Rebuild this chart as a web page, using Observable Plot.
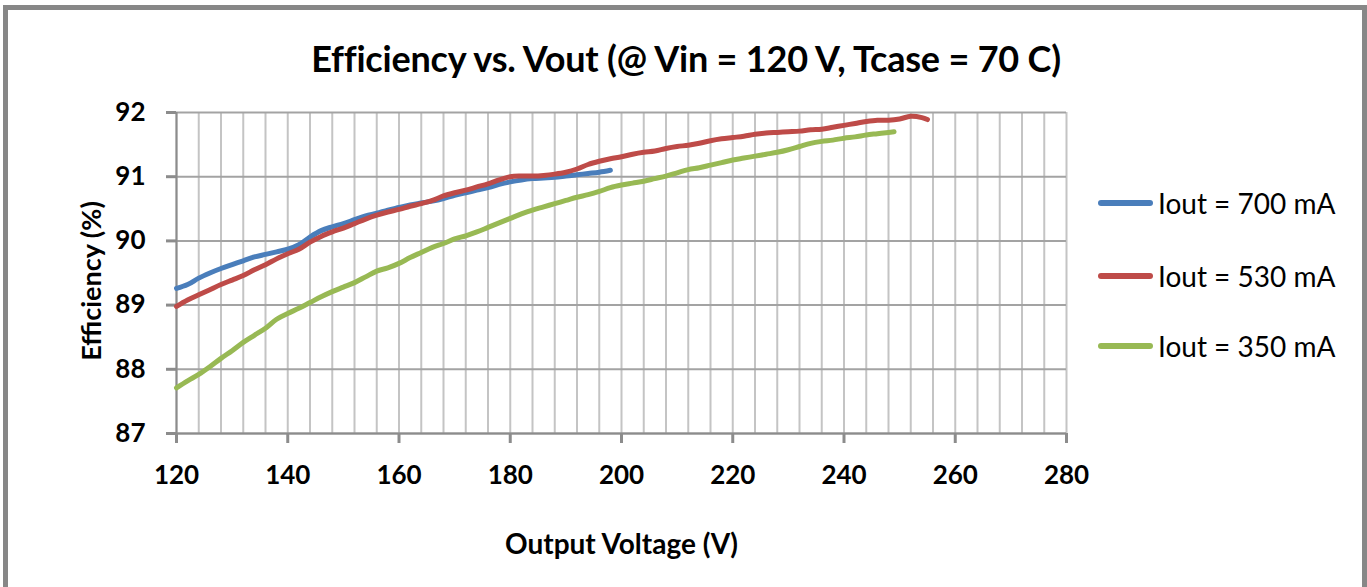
<!DOCTYPE html>
<html>
<head>
<meta charset="utf-8">
<script src="https://cdn.jsdelivr.net/npm/d3@7"></script>
<script src="https://cdn.jsdelivr.net/npm/@observablehq/plot@0.6"></script>
<style>
  html, body { margin: 0; padding: 0; background: #fff; }
  #wrap { position: relative; width: 1367px; height: 587px; overflow: hidden; font-family: Lato, "Open Sans", sans-serif; }
  #frame { position: absolute; left: 3px; top: 5px; width: 1354px; height: 700px; border: 5px solid #878787; border-bottom: none; }
  #title { position: absolute; left: 0; width: 1372px; top: 37px; text-align: center; font-weight: bold; font-size: 36px; line-height: 42px; color: #000; letter-spacing: -0.2px; }
  #chart { position: absolute; left: 0; top: 80px; }
  .leg { position: absolute; left: 1098px; height: 30px; }
  .leg .sw { position: absolute; left: 0; top: 12px; width: 55px; height: 6px; border-radius: 3px; }
  .leg .lb { position: absolute; left: 60px; top: 0; line-height: 30px; font-size: 28px; white-space: nowrap; color: #000; }
</style>
</head>
<body>
<div id="wrap">
  <div id="frame"></div>
  <div id="title">Efficiency vs. Vout (@ Vin = 120 V, Tcase = 70 C)</div>
  <div id="chart"></div>
  <div id="legend"></div>
</div>
<script>
// ---- data ----
const seriesNames = ["Iout = 700 mA", "Iout = 530 mA", "Iout = 350 mA"];
const seriesColors = ["#4a7ebb", "#be4b48", "#98b954"];

const vout700 = [120,122,124,126,128,130,132,134,136,138,140,142,144,146,148,150,152,154,156,158,160,162,164,166,168,170,172,174,176,178,180,182,184,186,188,190,192,194,196,198];
const eff700  = [89.26,89.32,89.42,89.50,89.57,89.63,89.69,89.75,89.79,89.83,89.87,89.94,90.06,90.16,90.22,90.27,90.33,90.39,90.43,90.48,90.52,90.56,90.59,90.62,90.66,90.71,90.75,90.79,90.83,90.88,90.92,90.95,90.97,90.98,90.99,91.01,91.03,91.05,91.07,91.10];

const vout530 = [120,122,124,126,128,130,132,134,136,138,140,142,144,146,148,150,152,154,156,158,160,162,164,166,168,170,172,174,176,178,180,182,184,186,188,190,192,194,196,198,200,202,204,206,208,210,212,214,216,218,220,222,224,226,228,230,232,234,236,238,240,242,244,246,248,250,252,254,255];
const eff530  = [88.98,89.08,89.16,89.24,89.32,89.39,89.46,89.55,89.63,89.72,89.80,89.87,89.98,90.07,90.14,90.20,90.27,90.34,90.40,90.45,90.49,90.54,90.58,90.63,90.70,90.75,90.79,90.84,90.89,90.95,91.00,91.01,91.01,91.02,91.04,91.07,91.12,91.19,91.24,91.28,91.31,91.35,91.38,91.40,91.44,91.47,91.49,91.52,91.56,91.59,91.61,91.63,91.66,91.68,91.69,91.70,91.71,91.73,91.74,91.77,91.80,91.83,91.86,91.88,91.88,91.90,91.94,91.92,91.89];

const vout350 = [120,122,124,126,128,130,132,134,136,138,140,142,144,146,148,150,152,154,156,158,160,162,164,166,168,170,172,174,176,178,180,182,184,186,188,190,192,194,196,198,200,202,204,206,208,210,212,214,216,218,220,222,224,226,228,230,232,234,236,238,240,242,244,246,248,249];
const eff350  = [87.71,87.82,87.92,88.04,88.17,88.29,88.42,88.53,88.64,88.78,88.87,88.95,89.04,89.13,89.21,89.28,89.35,89.44,89.53,89.58,89.65,89.74,89.82,89.90,89.96,90.03,90.08,90.14,90.21,90.28,90.35,90.42,90.48,90.53,90.58,90.63,90.68,90.72,90.77,90.83,90.87,90.90,90.93,90.97,91.01,91.06,91.11,91.14,91.18,91.22,91.26,91.29,91.32,91.35,91.38,91.42,91.47,91.52,91.55,91.57,91.60,91.62,91.65,91.67,91.69,91.70];

const xTicks = [120,140,160,180,200,220,240,260,280];
const xGrid  = [120,124,128,132,136,140,144,148,152,156,160,164,168,172,176,180,184,188,192,196,200,204,208,212,216,220,224,228,232,236,240,244,248,252,256,260,264,268,272,276,280];
const yTicks = [87,88,89,90,91,92];
const xTitle = "Output Voltage (V)";
const yTitle = "Efficiency (%)";

// ---- build table ----
const rows = [];
[[vout700, eff700], [vout530, eff530], [vout350, eff350]].forEach(([xs, ys], i) => {
  xs.forEach((v, j) => rows.push({series: seriesNames[i], vout: v, eff: ys[j]}));
});

const chart = Plot.plot({
  width: 1367,
  height: 507,
  marginLeft: 176,
  marginRight: 301,
  marginTop: 32,
  marginBottom: 154,
  style: {fontFamily: "Lato, 'Open Sans', sans-serif", fontSize: "26px", color: "#000", background: "transparent", overflow: "visible"},
  x: {domain: [120, 280]},
  y: {domain: [87, 92]},
  color: {domain: seriesNames, range: seriesColors},
  marks: [
    Plot.ruleX(xGrid, {stroke: "#c4c4c4", strokeWidth: 2}),
    Plot.ruleY(yTicks, {stroke: "#a3a3a3", strokeWidth: 2}),
    Plot.ruleX([120], {stroke: "#8c8c8c", strokeWidth: 2}),
    Plot.ruleY([87], {stroke: "#8c8c8c", strokeWidth: 2}),
    Plot.axisX({ticks: xTicks, tickSize: 10, tickPadding: 22, stroke: "#8c8c8c", strokeWidth: 3, tickFormat: d => String(d), label: null, fontWeight: "bold", fill: "#000"}),
    Plot.axisY({ticks: yTicks, tickSize: 10, tickPadding: 21, stroke: "#8c8c8c", strokeWidth: 3, tickFormat: d => String(d), label: null, fontWeight: "bold", fill: "#000"}),
    Plot.line(rows, {x: "vout", y: "eff", z: "series", stroke: "series", strokeWidth: 5, strokeLinecap: "round", strokeLinejoin: "round", curve: "catmull-rom"}),
    Plot.text([xTitle], {frameAnchor: "bottom", dy: 112, text: d => d, fontSize: 28, fontWeight: "bold", fill: "#000", lineAnchor: "middle", textAnchor: "middle"}),
    Plot.text([yTitle], {frameAnchor: "left", dx: -84, dy: 8, rotate: -90, text: d => d, fontSize: 27, fontWeight: "bold", fill: "#000", lineAnchor: "middle", textAnchor: "middle"})
  ]
});
document.getElementById("chart").appendChild(chart);

// legend
const legendTops = [188, 261, 331];
const legend = document.getElementById("legend");
seriesNames.forEach((name, i) => {
  const d = document.createElement("div");
  d.className = "leg";
  d.style.top = legendTops[i] + "px";
  d.innerHTML = `<div class="sw" style="background:${seriesColors[i]}"></div><div class="lb">${name}</div>`;
  legend.appendChild(d);
});
</script>
</body>
</html>
